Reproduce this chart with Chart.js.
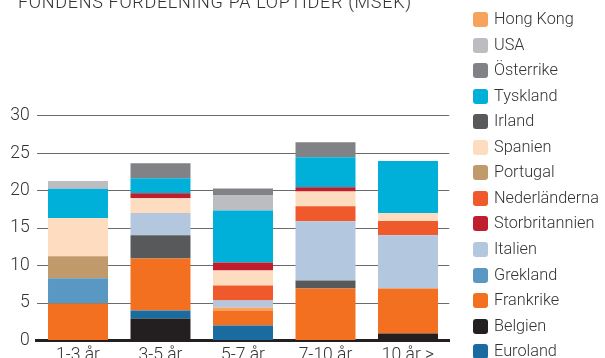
<!DOCTYPE html>
<html>
<head>
<meta charset="utf-8">
<script src="https://cdn.jsdelivr.net/npm/chart.js@4"></script>
<style>
  html, body { margin:0; padding:0; background:#fff; overflow:hidden; }
  #wrap { position:relative; width:605px; height:358px; }
  #title { position:absolute; left:18px; top:-9px; font-family:Roboto, sans-serif; font-weight:300; font-size:18px; letter-spacing:0.7px; color:#333; white-space:nowrap; }
  #legend { position:absolute; left:0; top:0; }
  .item { position:absolute; left:473px; height:16px; font-family:Roboto, sans-serif; font-weight:300; font-size:16.3px; color:#333; white-space:nowrap; }
  .box { position:absolute; left:0; top:0; width:15px; height:15px; border-radius:3px; }
  .lbl { position:absolute; left:21px; top:-2px; line-height:18px; }
</style>
</head>
<body>
<div id="wrap">
  <canvas id="myChart" width="605" height="358"></canvas>
  <div id="title">FONDENS FÖRDELNING PÅ LÖPTIDER (MSEK)</div>
  <div id="legend"></div>
</div>
<script>
'use strict';

const categories = ['1-3 år', '3-5 år', '5-7 år', '7-10 år', '10 år >'];
const yTicks = [0, 5, 10, 15, 20, 25, 30];

// values per country, stacked bottom -> top in alphabetical order
const belgien        = [0,    2.95, 0,    0,    0.95];
const euroland       = [0,    1.05, 2.0,  0,    0];
const frankrike      = [4.95, 6.95, 2.0,  6.95, 6.0];
const grekland       = [3.35, 0,    0,    0,    0];
const hongKong       = [0,    0,    0.4,  0,    0];
const irland         = [0,    3.1,  0,    1.05, 0];
const italien        = [0,    2.95, 0.95, 7.9,  7.1];
const nederlanderna  = [0,    0,    2.0,  2.0,  1.9];
const portugal       = [2.95, 0,    0,    0,    0];
const spanien        = [5.1,  2.0,  2.0,  2.0,  1.05];
const storbritannien = [0,    0.65, 1.05, 0.55, 0];
const tyskland       = [3.9,  2.0,  6.95, 4.0,  6.95];
const usa            = [1.05, 0,    2.0,  0,    0];
const osterrike      = [0,    2.0,  0.95, 2.0,  0];

const series = [
  {name:'Belgien', data:belgien, color:'#231f20'},
  {name:'Euroland', data:euroland, color:'#1a6ca0'},
  {name:'Frankrike', data:frankrike, color:'#f37021'},
  {name:'Grekland', data:grekland, color:'#5a98c4'},
  {name:'Hong Kong', data:hongKong, color:'#f7a35c'},
  {name:'Irland', data:irland, color:'#58595b'},
  {name:'Italien', data:italien, color:'#b3c8df'},
  {name:'Nederländerna', data:nederlanderna, color:'#f0592b'},
  {name:'Portugal', data:portugal, color:'#c19a6b'},
  {name:'Spanien', data:spanien, color:'#fddcbf'},
  {name:'Storbritannien', data:storbritannien, color:'#be1e2d'},
  {name:'Tyskland', data:tyskland, color:'#00b0d8'},
  {name:'USA', data:usa, color:'#bcbdc0'},
  {name:'Österrike', data:osterrike, color:'#808285'},
];

const legendOrder = ['Hong Kong','USA','Österrike','Tyskland','Irland','Spanien','Portugal',
  'Nederländerna','Storbritannien','Italien','Grekland','Frankrike','Belgien','Euroland'];

let datasets = [];
for (let i=0; i<series.length; i++){
  datasets.push({
    label: series[i].name,
    data: series[i].data,
    backgroundColor: series[i].color,
    borderWidth: 0,
    categoryPercentage: 1,
    barPercentage: 0.727,
  });
}

const tickFont = {family:'Roboto', weight:'300', size:17.5};

let ctx = document.getElementById('myChart').getContext('2d');
let myChart = new Chart(ctx, {
  type: 'bar',
  data: {labels: categories, datasets: datasets},
  options: {
    responsive: false,
    animation: false,
    layout: {padding: {left: 10, right: 155.75, top: 115.7, bottom: 0}},
    plugins: {legend: {display: false}, tooltip: {enabled: false}},
    scales: {
      x: {
        stacked: true,
        grid: {display: false},
        border: {display: true, color: '#231f20', width: 3},
        ticks: {font: tickFont, color: '#333', padding: -3, maxRotation: 0},
        afterFit: function(scale){ scale.height = 17.5; },
      },
      y: {
        stacked: true,
        min: 0,
        max: 30,
        afterBuildTicks: function(scale){ scale.ticks = yTicks.map(v => ({value: v})); },
        grid: {color: '#6b6b6b', lineWidth: 1, drawTicks: false},
        border: {display: false},
        ticks: {font: tickFont, color: '#333', padding: 7},
        afterFit: function(scale){ scale.width = 26.75; },
      },
    },
  },
});

// html legend, same colors as the datasets
const legend = document.getElementById('legend');
for (let i=0; i<legendOrder.length; i++){
  let s = series.find(d => d.name === legendOrder[i]);
  let item = document.createElement('div');
  item.className = 'item';
  item.style.top = (12 + i*25.55) + 'px';
  let box = document.createElement('div');
  box.className = 'box';
  box.style.background = s.color;
  let lbl = document.createElement('div');
  lbl.className = 'lbl';
  lbl.textContent = s.name;
  item.appendChild(box);
  item.appendChild(lbl);
  legend.appendChild(item);
}
</script>
</body>
</html>
